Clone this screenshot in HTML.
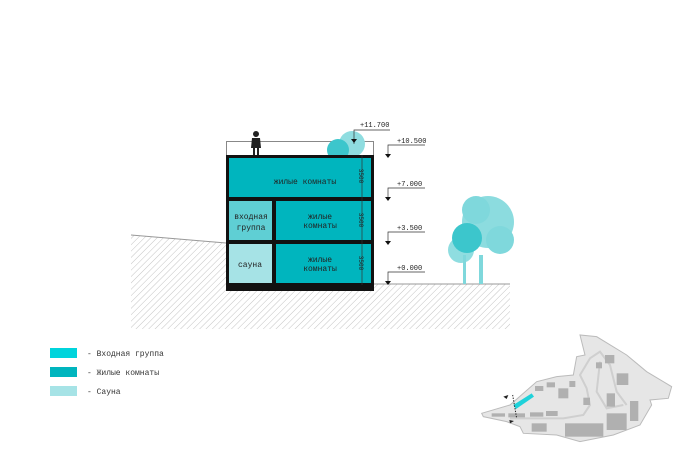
<!DOCTYPE html>
<html><head><meta charset="utf-8"><style>
body{margin:0;background:#fff;width:691px;height:450px;overflow:hidden}
svg{display:block}
text{font-family:"Liberation Mono","DejaVu Sans Mono",monospace;}
</style></head><body>
<svg width="691" height="450" viewBox="0 0 691 450">
<defs>
<pattern id="h" width="4.5" height="4.5" patternUnits="userSpaceOnUse" patternTransform="rotate(45)">
<line x1="0" y1="0" x2="0" y2="4.5" stroke="#c4c4c4" stroke-width="1"/>
</pattern>
</defs>
<polygon points="131,235 226,243 226,284 510,284 510,329 131,329" fill="url(#h)"/>
<polyline points="131,235 226,243" stroke="#999" fill="none" stroke-width="1"/>
<line x1="373" y1="284" x2="510" y2="284" stroke="#999"/>
<circle cx="488" cy="222" r="26" fill="#7fd8dc" opacity="0.9"/>
<circle cx="476" cy="210" r="14" fill="#7fd8dc"/>
<circle cx="500" cy="240" r="14" fill="#7fd8dc"/>
<circle cx="461" cy="250" r="13" fill="#8fdde0"/>
<circle cx="467" cy="238" r="15" fill="#3cc6cc"/>
<rect x="463" y="255" width="3" height="29" fill="#7fd8dc"/>
<rect x="479" y="255" width="4" height="29" fill="#7fd8dc"/>
<rect x="226.5" y="141.5" width="147" height="14" fill="none" stroke="#888"/>
<circle cx="352" cy="144" r="13" fill="#8fdde0"/>
<circle cx="338" cy="150" r="11" fill="#3cc6cc"/>
<circle cx="256" cy="134" r="3" fill="#222"/>
<path d="M252,138 h8 l1,10 h-2 v7 h-2 v-7 h-2 v7 h-2 v-7 h-2z" fill="#222"/>
<rect x="226" y="155" width="148" height="136" fill="#111"/>
<rect x="229" y="158" width="142" height="39" fill="#00b5be"/>
<rect x="229" y="201" width="43" height="39" fill="#5fcfd4"/>
<rect x="276" y="201" width="95" height="39" fill="#00b5be"/>
<rect x="229" y="244" width="43" height="39" fill="#a6e3e6"/>
<rect x="276" y="244" width="95" height="39" fill="#00b5be"/>
<line x1="362" y1="155" x2="362" y2="285" stroke="#333" stroke-width="0.7"/>
<g font-size="6" fill="#222">
<text transform="translate(359,176) rotate(90)" text-anchor="middle">3500</text>
<text transform="translate(359,220) rotate(90)" text-anchor="middle">3500</text>
<text transform="translate(359,263) rotate(90)" text-anchor="middle">3500</text>
</g>
<g font-size="8" fill="#222">
<text x="305" y="184" text-anchor="middle">жилые комнаты</text>
<text x="320" y="219" text-anchor="middle">жилые</text>
<text x="320" y="228" text-anchor="middle">комнаты</text>
<text x="320" y="262" text-anchor="middle">жилые</text>
<text x="320" y="271" text-anchor="middle">комнаты</text>
<text x="251" y="219" text-anchor="middle">входная</text>
<text x="251" y="230" text-anchor="middle">группа</text>
<text x="250" y="267" text-anchor="middle">сауна</text>
</g>
<g font-size="7" fill="#222" stroke-width="0.7">
<text x="360" y="127">+11.700</text>
<polyline points="354,144 354,130 390,130" fill="none" stroke="#333"/>
<polygon points="351,139 357,139 354,143" fill="#111"/>
<text x="397" y="143">+10.500</text>
<polyline points="388,155 388,145 425,145" fill="none" stroke="#333"/>
<polygon points="385,154 391,154 388,158" fill="#111"/>
<text x="397" y="186">+7.000</text>
<polyline points="388,198 388,188 425,188" fill="none" stroke="#333"/>
<polygon points="385,197 391,197 388,201" fill="#111"/>
<text x="397" y="230">+3.500</text>
<polyline points="388,242 388,232 425,232" fill="none" stroke="#333"/>
<polygon points="385,241 391,241 388,245" fill="#111"/>
<text x="397" y="270">+0.000</text>
<polyline points="388,282 388,272 425,272" fill="none" stroke="#333"/>
<polygon points="385,281 391,281 388,285" fill="#111"/>
</g>
<rect x="50" y="348" width="27" height="10" fill="#00d4dc"/>
<rect x="50" y="367" width="27" height="10" fill="#00b5be"/>
<rect x="50" y="386" width="27" height="10" fill="#a6e3e6"/>
<g font-size="8" fill="#333">
<text x="87" y="356">- Входная группа</text>
<text x="87" y="375">- Жилые комнаты</text>
<text x="87" y="394">- Сауна</text>
</g>
<g transform="translate(470,325) scale(0.3333)">
<path d="M35,265 L120,240 L200,170 L260,155 L310,150 L320,95 L345,90 L330,30 L380,35 L470,90 L530,140 L605,185 L595,220 L540,225 L545,240 L510,300 L430,330 L330,350 L260,330 L160,325 L150,305 L110,290 L40,275 Z" fill="#e6e6e6" stroke="#bbb" stroke-width="3"/>
<g fill="none" stroke="#cfcfcf" stroke-width="6">
<path d="M120,280 L280,280 L340,270 L360,240 L350,190 L330,150 L360,100 L390,80 L420,120 L440,200 L470,240"/>
<path d="M390,110 L380,200 L410,250 L460,240"/>
</g>
<g fill="#b0b0b0">
<rect x="265" y="190" width="30" height="30"/><rect x="298" y="168" width="18" height="18"/>
<rect x="340" y="218" width="20" height="22"/><rect x="440" y="145" width="35" height="35"/>
<rect x="405" y="90" width="28" height="25"/><rect x="378" y="112" width="18" height="18"/>
<rect x="410" y="205" width="25" height="40"/><rect x="480" y="228" width="25" height="60"/>
<rect x="285" y="295" width="115" height="40"/><rect x="410" y="265" width="60" height="50"/>
<rect x="185" y="295" width="45" height="25"/><rect x="65" y="265" width="40" height="10"/>
<rect x="115" y="265" width="50" height="12"/><rect x="180" y="262" width="40" height="13"/>
<rect x="228" y="258" width="35" height="15"/><rect x="195" y="183" width="25" height="15"/>
<rect x="230" y="172" width="25" height="15"/>
</g>
<polygon points="130,240 185,205 192,215 138,252" fill="#1fd2da"/>
<line x1="128" y1="210" x2="140" y2="280" stroke="#222" stroke-width="3" stroke-dasharray="4,4"/>
<polygon points="100,215 115,210 110,222" fill="#222"/>
<polygon points="118,285 132,288 120,295" fill="#222"/>
</g>
</svg>
</body></html>
